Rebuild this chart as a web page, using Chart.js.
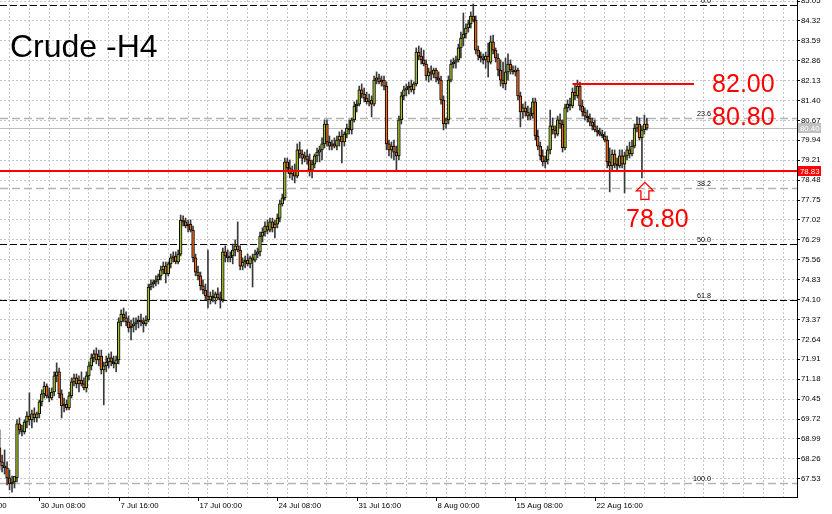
<!DOCTYPE html>
<html><head><meta charset="utf-8">
<script src="https://cdn.jsdelivr.net/npm/chart.js@4.4.0/dist/chart.umd.min.js"></script>
<style>html,body{margin:0;padding:0;background:#fff;overflow:hidden}canvas{display:block}</style>
</head><body>
<canvas id="c" width="832" height="514"></canvas>
<script>
// ---- data (H4 bars, index 0 = first visible bar) ----
const opens = [68.66,68.15,68.00,67.93,67.56,67.34,67.41,67.56,69.54,69.32,
69.25,69.61,69.83,69.69,69.91,69.76,69.91,70.35,70.64,70.93,
70.57,70.49,70.71,71.30,71.45,70.64,70.20,70.27,70.13,70.57,
71.08,71.23,71.01,71.15,71.01,70.86,71.30,71.67,71.96,72.11,
71.89,72.03,71.52,71.67,71.81,71.96,71.81,71.74,71.89,73.28,
73.57,73.43,73.28,73.06,73.13,73.21,73.28,73.35,73.28,73.21,
73.35,74.56,74.67,74.75,74.82,74.97,75.19,75.33,75.04,75.41,
75.63,75.70,75.48,75.77,77.02,76.95,76.80,76.87,76.65,75.63,
75.11,74.97,74.60,74.45,74.23,74.09,74.23,74.16,74.31,74.16,
74.09,75.85,75.70,75.63,75.70,75.92,76.07,75.92,75.33,75.48,
75.55,75.41,75.63,75.55,75.77,75.85,76.43,76.58,76.80,76.65,
76.95,76.73,76.87,77.09,77.61,77.83,79.15,78.93,78.71,78.85,
78.63,79.59,79.44,79.29,79.37,79.22,78.85,79.07,79.37,79.51,
79.59,79.81,80.54,79.88,79.73,79.81,79.73,79.95,80.10,79.88,
80.17,80.39,80.32,80.69,81.20,81.27,81.79,81.64,81.49,81.35,
81.42,81.27,82.15,82.23,82.08,82.15,81.93,79.81,79.59,79.73,
79.51,79.37,80.69,81.57,81.79,81.86,81.93,81.79,82.01,83.18,
83.03,82.89,82.74,82.30,82.45,82.37,82.52,82.23,82.15,81.42,
80.54,80.69,82.15,82.74,82.81,82.89,83.33,83.69,83.84,84.06,
84.21,84.50,84.35,83.25,83.03,82.96,82.89,83.03,82.81,83.55,
83.25,82.96,82.52,82.15,82.01,82.45,82.74,82.52,82.45,82.52,
81.57,80.98,81.13,80.98,80.83,80.91,81.35,80.10,79.73,79.37,
79.15,79.22,79.59,80.47,80.32,80.17,80.69,80.54,79.66,81.13,
81.27,81.20,81.71,81.57,81.93,81.20,80.98,80.83,80.76,80.61,
80.47,80.32,80.25,80.17,80.10,79.95,79.15,79.00,79.44,79.07,
79.00,79.37,79.07,79.37,79.59,79.44,79.73,80.39,80.54,80.03,
80.32,80.54];
const highs = [69.32,68.40,68.59,68.15,67.85,67.63,67.56,69.69,69.76,69.50,
69.69,69.98,70.68,70.05,70.13,69.98,70.42,70.79,71.08,71.01,
70.86,70.86,71.45,71.78,71.59,70.79,70.49,70.42,70.71,71.23,
71.37,71.37,71.30,71.45,71.23,71.45,71.81,72.11,72.25,72.33,
72.25,72.25,71.81,72.03,72.11,72.18,72.03,72.03,73.43,73.72,
73.79,73.65,73.50,73.35,73.43,73.43,73.50,73.57,73.43,73.50,
74.67,74.82,74.82,74.97,75.04,75.33,75.48,75.48,75.48,75.77,
75.85,75.85,75.92,77.20,77.17,77.09,77.02,77.02,76.80,75.77,
75.33,75.11,74.82,74.67,75.92,74.38,74.45,74.38,74.53,74.38,
75.99,76.07,75.92,75.85,76.14,76.29,76.95,76.07,75.63,75.70,
75.77,75.70,75.77,75.92,75.99,76.58,76.73,76.95,77.02,77.09,
77.09,77.02,77.24,77.75,77.97,79.29,79.29,79.22,79.00,79.07,
79.81,79.88,79.59,79.51,79.59,79.44,79.22,79.44,79.66,79.73,
80.03,80.69,80.69,80.10,79.95,80.03,80.10,80.25,80.32,80.25,
80.54,80.69,80.76,81.35,81.42,81.93,82.01,81.86,81.71,81.64,
81.57,82.30,82.45,82.37,82.30,82.30,82.08,79.95,79.88,79.95,
79.73,80.83,81.71,81.93,82.01,82.08,82.15,82.08,83.33,83.40,
83.33,83.25,82.89,82.59,82.67,82.59,82.59,82.45,82.30,81.57,
80.76,82.30,82.89,82.96,83.03,83.47,83.91,84.61,84.21,84.35,
84.65,84.94,84.50,83.40,83.18,83.11,83.18,83.51,83.77,83.80,
83.33,83.11,82.89,82.81,82.96,83.11,82.89,82.67,82.67,82.59,
81.71,81.27,81.35,81.20,81.13,81.49,81.49,80.32,79.88,79.59,
79.37,79.73,81.05,80.76,80.47,80.83,80.91,80.69,81.27,81.42,
81.49,81.86,82.01,82.15,82.08,81.42,81.13,81.05,80.91,80.76,
80.69,80.47,80.39,80.32,80.25,80.10,79.66,79.59,79.59,79.29,
79.59,79.59,79.51,79.73,79.88,79.95,80.54,80.80,80.76,80.47,
80.87,80.76];
const lows = [67.85,67.78,67.70,67.30,67.12,67.04,67.19,67.41,69.17,69.10,
69.17,69.39,69.50,69.39,69.61,69.61,69.76,70.20,70.49,70.49,
70.35,70.42,70.57,71.08,70.49,69.76,69.98,70.05,70.05,70.49,
70.93,70.86,70.71,70.93,70.79,70.71,71.15,71.52,71.81,71.74,
71.67,71.37,70.24,71.45,71.59,71.67,71.59,71.45,71.74,73.13,
73.28,73.13,72.91,72.62,72.91,72.99,73.06,73.13,72.91,73.13,
73.28,74.45,74.53,74.60,74.67,74.82,75.04,74.71,74.97,75.26,
75.48,75.41,75.41,75.70,76.80,76.73,76.58,76.58,75.48,74.97,
74.82,74.45,74.31,74.09,73.79,73.94,74.01,73.94,74.09,73.79,
74.01,75.48,75.48,75.48,75.41,75.70,75.85,75.19,75.19,75.26,
75.33,75.26,74.56,75.48,75.63,75.70,76.21,76.43,76.51,76.58,
76.58,76.36,76.73,76.95,77.53,77.75,78.78,78.56,78.49,78.38,
78.56,79.29,79.07,79.15,79.07,78.63,78.56,78.93,79.15,79.15,
79.22,79.66,79.73,79.59,79.59,79.66,79.59,79.73,79.11,79.73,
80.03,80.17,80.17,80.61,80.98,81.20,81.49,81.35,81.27,81.20,
80.80,81.20,82.01,82.01,81.93,81.79,79.59,79.37,79.29,79.22,
78.85,79.22,80.54,81.42,81.57,81.64,81.71,81.64,81.93,82.89,
82.74,82.67,82.15,82.08,82.15,82.23,82.08,82.01,81.27,80.32,
80.39,80.54,82.08,82.59,82.59,82.81,82.96,83.40,83.69,83.91,
84.06,84.28,83.11,82.89,82.81,82.74,82.59,82.26,82.74,83.11,
82.81,82.30,81.93,81.86,81.79,82.15,82.37,82.37,82.30,81.42,
80.43,80.76,80.83,80.69,80.69,80.76,79.95,79.59,79.22,79.00,
78.93,79.07,79.44,80.17,80.03,80.10,80.39,79.51,79.59,80.98,
81.05,81.13,81.42,81.49,81.05,80.83,80.69,80.61,80.47,80.32,
80.25,80.10,80.10,80.03,79.88,78.93,78.05,78.85,78.93,78.85,
78.93,78.93,78.01,79.22,79.29,79.37,79.66,80.25,79.95,78.56,
80.17,80.32];
const closes = [68.15,68.00,67.93,67.56,67.34,67.41,67.63,69.54,69.32,69.25,
69.61,69.83,69.69,69.91,69.76,69.91,70.35,70.64,70.93,70.57,
70.49,70.71,71.30,71.45,70.64,70.20,70.27,70.13,70.57,71.08,
71.23,71.01,71.15,71.01,70.86,71.30,71.67,71.96,72.11,71.89,
72.03,71.52,71.67,71.81,71.96,71.81,71.74,71.89,73.28,73.57,
73.43,73.28,73.06,73.13,73.21,73.28,73.35,73.28,73.21,73.35,
74.56,74.67,74.75,74.82,74.97,75.19,75.33,75.04,75.41,75.63,
75.70,75.48,75.77,77.02,76.95,76.80,76.87,76.65,75.63,75.11,
74.97,74.60,74.45,74.23,74.09,74.23,74.16,74.31,74.16,74.09,
75.85,75.70,75.63,75.70,75.92,76.07,75.92,75.33,75.48,75.55,
75.41,75.63,75.55,75.77,75.85,76.43,76.58,76.80,76.65,76.95,
76.73,76.87,77.09,77.61,77.83,79.15,78.93,78.71,78.85,78.63,
79.59,79.44,79.29,79.37,79.22,78.85,79.07,79.37,79.51,79.59,
79.81,80.54,79.88,79.73,79.81,79.73,79.95,80.10,79.88,80.17,
80.39,80.32,80.69,81.20,81.27,81.79,81.64,81.49,81.35,81.42,
81.27,82.15,82.23,82.08,82.15,81.93,79.81,79.59,79.73,79.51,
79.37,80.69,81.57,81.79,81.86,81.93,81.79,82.01,83.18,83.03,
82.89,82.74,82.30,82.45,82.37,82.52,82.23,82.15,81.42,80.54,
80.69,82.15,82.74,82.81,82.89,83.33,83.69,83.84,84.06,84.21,
84.50,84.35,83.25,83.03,82.96,82.89,83.03,82.81,83.55,83.25,
82.96,82.52,82.15,82.01,82.45,82.74,82.52,82.45,82.52,81.57,
80.98,81.13,80.98,80.83,80.91,81.35,80.10,79.73,79.37,79.15,
79.22,79.59,80.47,80.32,80.17,80.69,80.54,79.66,81.13,81.27,
81.20,81.71,81.57,81.93,81.20,80.98,80.83,80.76,80.61,80.47,
80.32,80.25,80.17,80.10,79.95,79.15,79.00,79.44,79.07,79.00,
79.37,79.07,79.37,79.59,79.44,79.73,80.39,80.54,80.03,80.32,
80.54,80.39];

// time-axis labels (bar index -> label)
const xLabelBars = [-16, 16, 48, 80, 112, 144, 176, 208, 240];
const xLabels = ['23 Jun 00:00','30 Jun 08:00','7 Jul 16:00','17 Jul 00:00','24 Jul 08:00','31 Jul 16:00','8 Aug 00:00','15 Aug 08:00','22 Aug 16:00'];
// price-axis tick labels
const yTickValues = [67.53,68.26,68.99,69.72,70.45,71.18,71.91,72.64,73.37,74.10,74.83,75.56,76.29,77.02,77.75,78.48,79.21,79.94,80.67,81.40,82.13,82.86,83.59,84.32,85.05];
// Fibonacci retracement levels
const fibLabels = ['0.0','23.6','38.2','50.0','61.8','100.0'];
const fibValues = [84.90, 80.77, 78.21, 76.14, 74.09, 67.38];
// marked levels
const currentPrice = 80.40;
const supportLevel = 78.83;
const resistanceLevel = 82.00;
const resistanceFromBar = 231, resistanceToBar = 280;
const annotations = [
  {text:'82.00', bar:287.3, value:82.00},
  {text:'80.80', bar:287.3, value:80.80},
  {text:'78.80', bar:252.6, value:77.05}
];
const arrowBar = 260.2, arrowValue = 78.40;

// ---- styles ----
const fibColor = ['#000000','#b4b4b4','#b4b4b4','#000000','#000000','#b4b4b4'];
const fibWidth = [1, 1.5, 1.5, 1, 1, 1.5];
const fibDash = [[7,3],[8,4],[8,4],[7,3],[7,3],[8,4]];
const bullFill = '#a4c22e', bearFill = '#ee6a1e';
const FONT = '"Liberation Sans", Arial, sans-serif';

const idx = opens.map((_, i) => i);
const bodies = idx.map(i => ({x: i, y: [opens[i], closes[i]]}));
const wicks = idx.map(i => ({x: i, y: [lows[i], highs[i]]}));

const gridBars = [];
for (let b = 8; b <= 320; b += 8) gridBars.push(b);

const overlay = {
  id: 'overlay',
  beforeDatasetsDraw(chart) {
    const {ctx, chartArea: a, scales: {x, y}} = chart;
    ctx.save();
    ctx.beginPath(); ctx.rect(a.left, a.top, a.right - a.left, a.bottom - a.top); ctx.clip();
    // current price line
    let py = Math.round(y.getPixelForValue(currentPrice)) + 0.5;
    ctx.strokeStyle = '#bdbdbd'; ctx.lineWidth = 1; ctx.setLineDash([]);
    ctx.beginPath(); ctx.moveTo(a.left, py); ctx.lineTo(a.right, py); ctx.stroke();
    // fib levels
    ctx.font = '7.2px ' + FONT; ctx.fillStyle = '#000'; ctx.textBaseline = 'alphabetic'; ctx.textAlign = 'right';
    fibValues.forEach((v, i) => {
      const yy = Math.round(y.getPixelForValue(v)) + 0.5;
      ctx.strokeStyle = fibColor[i]; ctx.lineWidth = fibWidth[i]; ctx.setLineDash(fibDash[i]);
      ctx.beginPath(); ctx.moveTo(a.left, yy); ctx.lineTo(a.right, yy); ctx.stroke();
      ctx.fillText(fibLabels[i], 711, yy - 2.5);
    });
    ctx.restore();
  },
  afterDatasetsDraw(chart) {
    const {ctx, chartArea: a, scales: {x, y}} = chart;
    ctx.save();
    ctx.setLineDash([]);
    ctx.strokeStyle = '#ff0000'; ctx.lineWidth = 2;
    let sy = Math.round(y.getPixelForValue(supportLevel));
    ctx.beginPath(); ctx.moveTo(a.left, sy); ctx.lineTo(a.right, sy); ctx.stroke();
    let ry = Math.round(y.getPixelForValue(resistanceLevel));
    ctx.beginPath(); ctx.moveTo(x.getPixelForValue(resistanceFromBar), ry); ctx.lineTo(x.getPixelForValue(resistanceToBar), ry); ctx.stroke();
    // annotation texts
    ctx.fillStyle = '#ff0000'; ctx.font = '25px ' + FONT; ctx.textAlign = 'left'; ctx.textBaseline = 'middle';
    annotations.forEach(an => ctx.fillText(an.text, x.getPixelForValue(an.bar), y.getPixelForValue(an.value) + 1));
    // arrow
    const ax = x.getPixelForValue(arrowBar), ay = y.getPixelForValue(arrowValue);
    ctx.lineWidth = 1.3; ctx.strokeStyle = '#ff0000';
    ctx.beginPath();
    ctx.moveTo(ax, ay); ctx.lineTo(ax + 8.5, ay + 8.5); ctx.lineTo(ax + 4, ay + 8.5); ctx.lineTo(ax + 4, ay + 17);
    ctx.lineTo(ax - 4, ay + 17); ctx.lineTo(ax - 4, ay + 8.5); ctx.lineTo(ax - 8.5, ay + 8.5); ctx.closePath();
    ctx.stroke();
    ctx.restore();
  },
  afterDraw(chart) {
    const {ctx, chartArea: a, scales: {x, y}} = chart;
    ctx.save();
    // title
    ctx.fillStyle = '#000'; ctx.font = '32px ' + FONT; ctx.textAlign = 'left'; ctx.textBaseline = 'alphabetic';
    ctx.fillText('Crude -H4', 10, 57);
    // time labels
    ctx.font = '7.8px ' + FONT; ctx.textBaseline = 'top';
    ctx.strokeStyle = '#000'; ctx.lineWidth = 1;
    xLabelBars.forEach((b, i) => {
      const px = Math.round(x.getPixelForValue(b)) + 0.5;
      ctx.beginPath(); ctx.moveTo(px, a.bottom); ctx.lineTo(px, a.bottom + 4); ctx.stroke();
      ctx.fillText(xLabels[i], px + 1, a.bottom + 5);
    });
    // price tags on axis
    const tag = (v, bg, fg) => {
      const ty = Math.round(y.getPixelForValue(v));
      ctx.fillStyle = bg; ctx.fillRect(a.right + 1, ty - 5, 23, 10);
      ctx.fillStyle = fg; ctx.textBaseline = 'middle'; ctx.font = '7.8px ' + FONT;
      ctx.fillText(v.toFixed(2), a.right + 3, ty + 0.5);
    };
    tag(currentPrice, '#c0c0c0', '#ffffff');
    tag(supportLevel, '#ff0000', '#ffffff');
    ctx.restore();
  }
};

new Chart(document.getElementById('c'), {
  type: 'bar',
  data: {
    datasets: [
      {label: 'body', data: bodies, order: 0, grouped: false, barThickness: 2.8, minBarLength: 1,
       backgroundColor: idx.map(i => closes[i] >= opens[i] ? bullFill : bearFill),
       borderColor: '#000', borderWidth: 1, borderSkipped: false},
      {label: 'wick', data: wicks, order: 1, grouped: false, barThickness: 1,
       backgroundColor: '#3a3a3a', borderWidth: 0}
    ]
  },
  options: {
    responsive: false, animation: false, devicePixelRatio: 1,
    layout: {padding: 0},
    plugins: {legend: {display: false}, tooltip: {enabled: false}},
    scales: {
      x: {
        type: 'linear', position: 'bottom', min: 0.153, max: 321.53, offset: false,
        afterBuildTicks: s => { s.ticks = gridBars.map(v => ({value: v})); },
        afterFit: s => { s.height = 17; s.paddingLeft = 0; s.paddingRight = 0; },
        grid: {color: '#c6c6c6', lineWidth: 1, drawTicks: false},
        border: {display: true, color: '#000', width: 1, dash: [2, 2]},
        ticks: {display: false}
      },
      y: {
        type: 'linear', position: 'right', min: 66.86, max: 85.087,
        afterBuildTicks: s => { s.ticks = yTickValues.map(v => ({value: v})); },
        afterFit: s => { s.width = 35; s.paddingTop = 0; s.paddingBottom = 0; },
        grid: {color: '#c6c6c6', lineWidth: 1, drawTicks: true, tickLength: 3, tickColor: '#000'},
        border: {display: true, color: '#000', width: 1, dash: [2, 2]},
        ticks: {color: '#000', padding: 1, font: {family: '"Liberation Sans", Arial, sans-serif', size: 7.8},
                callback: v => Number(v).toFixed(2)}
      }
    }
  },
  plugins: [overlay]
});
</script>
</body></html>
